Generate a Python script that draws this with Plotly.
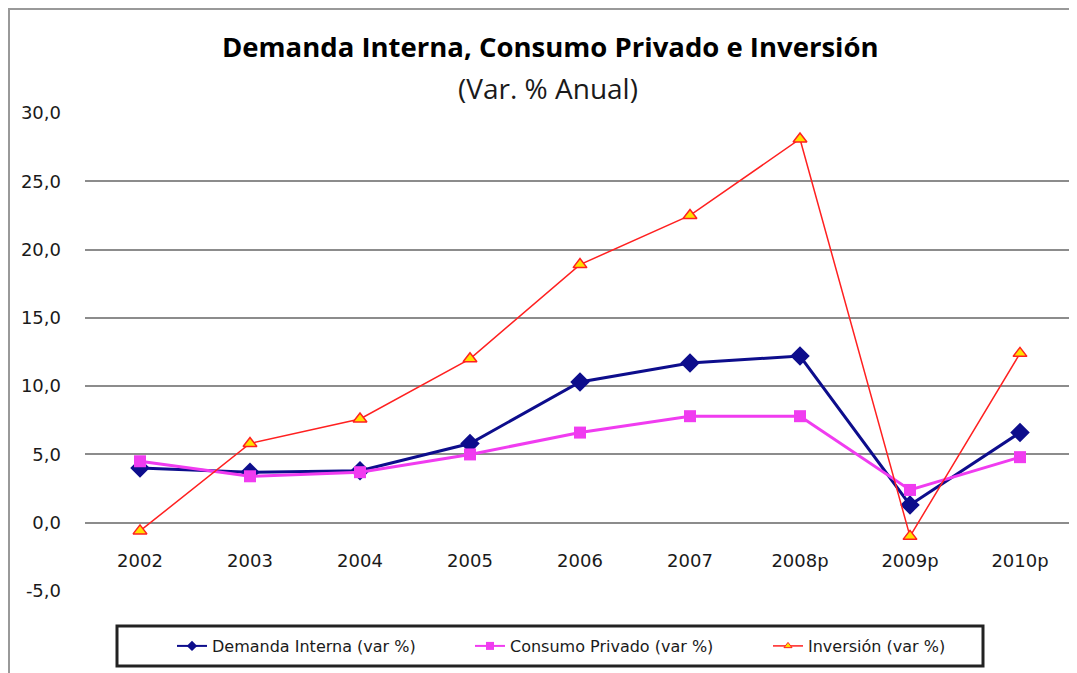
import plotly.graph_objects as go

years = ["2002", "2003", "2004", "2005", "2006", "2007", "2008p", "2009p", "2010p"]
demanda = [4.0, 3.7, 3.8, 5.8, 10.3, 11.7, 12.2, 1.3, 6.6]
consumo = [4.5, 3.4, 3.7, 5.0, 6.6, 7.8, 7.8, 2.4, 4.8]
inversion = [-0.6, 5.8, 7.6, 12.0, 18.9, 22.5, 28.1, -1.0, 12.4]
y_ticks = [-5, 0, 5, 10, 15, 20, 25, 30]
y_tick_text = ["-5,0", "0,0", "5,0", "10,0", "15,0", "20,0", "25,0", "30,0"]
names = ["Demanda Interna (var %)", "Consumo Privado (var %)", "Inversión (var %)"]

# page body has an 8px margin: figure origin sits at screen (8, 8)
OFF = 8
W, H = 1077 - OFF, 673 - OFF
L, R, T, B = 85 - OFF, 2, 113 - OFF, 82
pw, ph = W - L - R, H - T - B

def px(x):  # screen x -> paper
    return (x - OFF - L) / pw

def py(y):  # screen y -> paper
    return (H - B - (y - OFF)) / ph

c_dem, c_con, c_inv, c_tri = "#0D0D8C", "#F03CF0", "#FF2020", "#FFE000"

fig = go.Figure()
fig.add_trace(go.Scatter(
    x=years, y=demanda, name=names[0], mode="lines+markers", showlegend=False,
    line=dict(color=c_dem, width=3),
    marker=dict(symbol="diamond", size=15, color=c_dem),
))
fig.add_trace(go.Scatter(
    x=years, y=consumo, name=names[1], mode="lines+markers", showlegend=False,
    line=dict(color=c_con, width=3),
    marker=dict(symbol="square", size=12, color=c_con),
))
fig.add_trace(go.Scatter(
    x=years, y=inversion, name=names[2], mode="lines+markers", showlegend=False,
    line=dict(color=c_inv, width=1.5),
    marker=dict(symbol="triangle-up", size=12, color=c_tri,
                line=dict(color=c_inv, width=1.5)),
))
# legend entries (smaller symbols, like the original legend)
fig.add_trace(go.Scatter(x=[None], y=[None], name=names[0], mode="lines+markers",
                         line=dict(color=c_dem, width=2),
                         marker=dict(symbol="diamond", size=8, color=c_dem)))
fig.add_trace(go.Scatter(x=[None], y=[None], name=names[1], mode="lines+markers",
                         line=dict(color=c_con, width=2),
                         marker=dict(symbol="square", size=8, color=c_con)))
fig.add_trace(go.Scatter(x=[None], y=[None], name=names[2], mode="lines+markers",
                         line=dict(color=c_inv, width=1.5),
                         marker=dict(symbol="triangle-up", size=7, color=c_tri,
                                     line=dict(color=c_inv, width=1))))

fig.update_layout(
    width=W, height=H,
    margin=dict(l=L, r=R, t=T, b=B),
    paper_bgcolor="white", plot_bgcolor="white",
    font=dict(family="DejaVu Sans", color="#1a1a1a"),
    showlegend=True,
    legend=dict(
        orientation="h", x=px(172), xanchor="left", y=py(646), yanchor="middle",
        entrywidth=253, entrywidthmode="pixels",
        font=dict(family="DejaVu Sans", size=16, color="#1a1a1a"),
        bgcolor="rgba(0,0,0,0)", borderwidth=0,
    ),
    xaxis=dict(
        type="category", range=[-0.5, 8.5], anchor="free", position=5 / 35,
        showgrid=False, showline=False, zeroline=False, ticks="",
        tickfont=dict(family="DejaVu Sans", size=18, color="#1a1a1a"),
        ticklabelstandoff=25,
    ),
    yaxis=dict(
        range=[-5, 30], tickvals=y_ticks, ticktext=y_tick_text,
        showgrid=True, gridcolor="#8c8c8c", gridwidth=2,
        zeroline=False, showline=False, ticks="",
        tickfont=dict(family="DejaVu Sans", size=18, color="#1a1a1a"),
        ticklabelstandoff=23,
    ),
    annotations=[
        dict(text="<b>Demanda Interna, Consumo Privado e Inversión</b>",
             xref="paper", yref="paper", x=px(550), y=py(47),
             xanchor="center", yanchor="middle", showarrow=False,
             font=dict(family="Open Sans", size=27.5, color="black")),
        dict(text="(Var. % Anual)",
             xref="paper", yref="paper", x=px(548), y=py(88),
             xanchor="center", yanchor="middle", showarrow=False,
             font=dict(family="Open Sans", size=28, color="#1a1a1a")),
    ],
    shapes=[
        dict(type="rect", xref="paper", yref="paper",
             x0=px(9), x1=px(1100), y0=py(700), y1=py(9),
             line=dict(color="#999999", width=2), layer="below"),
        dict(type="rect", xref="paper", yref="paper",
             x0=px(117), x1=px(983), y0=py(666), y1=py(626),
             line=dict(color="#222222", width=3), layer="above"),
    ],
)

fig.write_html("out.html")
